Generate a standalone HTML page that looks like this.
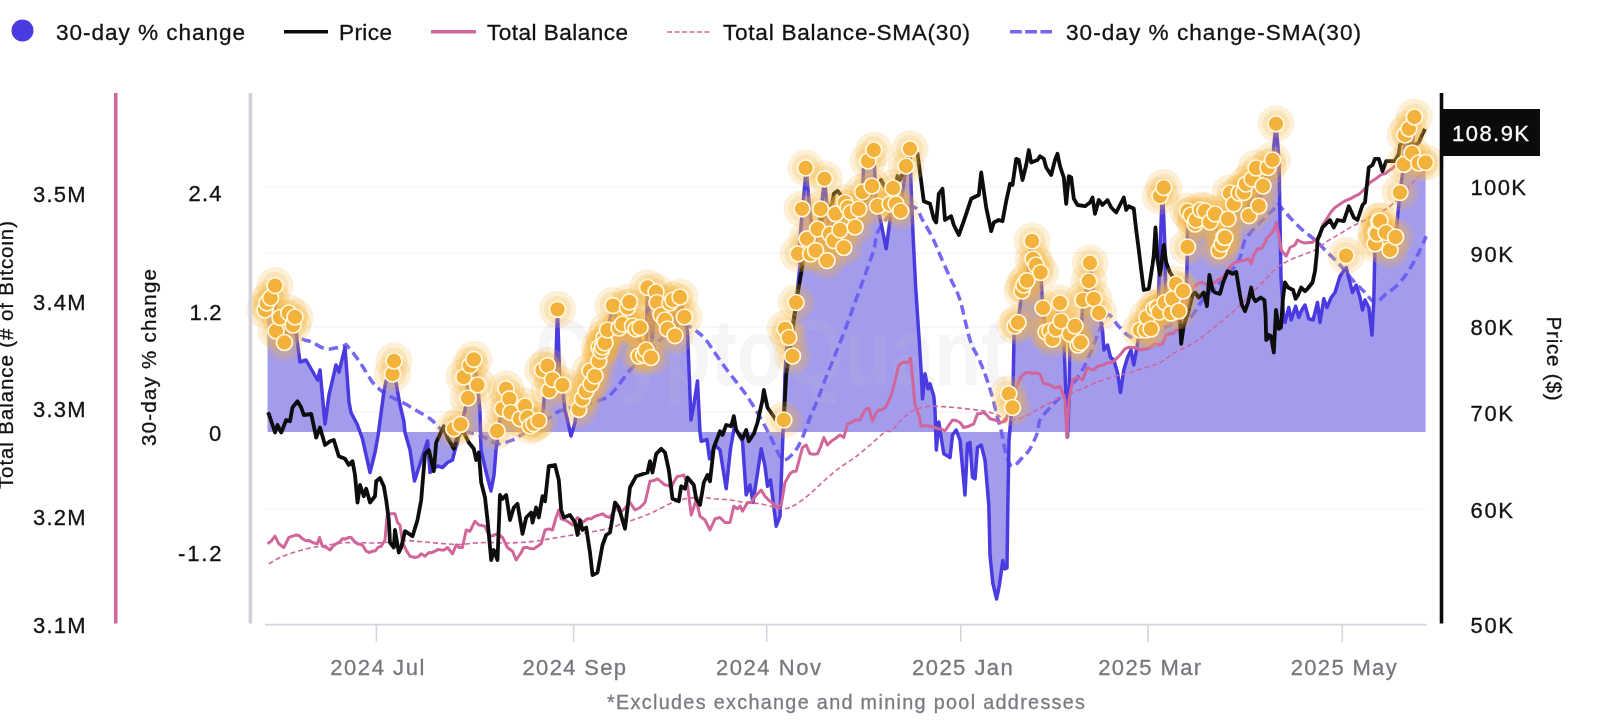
<!DOCTYPE html>
<html lang="en"><head><meta charset="utf-8"><title>30-day % change chart</title>
<style>
html,body{margin:0;padding:0;background:#fff;}
body{width:1600px;height:728px;overflow:hidden;font-family:"Liberation Sans", Arial, sans-serif;}
svg{display:block;filter:blur(0.4px)}
text{font-family:"Liberation Sans", Arial, sans-serif;}
.lg{font-size:22.6px;fill:#111;stroke:#111;stroke-width:0.3px}
.ax{font-size:22px;fill:#111;stroke:#111;stroke-width:0.3px}
.xt{font-size:22px;fill:#77767e;stroke:#77767e;stroke-width:0.3px}
</style></head><body>
<svg width="1600" height="728" viewBox="0 0 1600 728">
<rect width="1600" height="728" fill="#fff"/>

<line x1="266" x2="1426" y1="187" y2="187" stroke="#f0f0f3" stroke-width="1.2"/>
<line x1="266" x2="1426" y1="253" y2="253" stroke="#f0f0f3" stroke-width="1.2"/>
<line x1="266" x2="1426" y1="327" y2="327" stroke="#f0f0f3" stroke-width="1.2"/>
<line x1="266" x2="1426" y1="412" y2="412" stroke="#f0f0f3" stroke-width="1.2"/>
<line x1="266" x2="1426" y1="509" y2="509" stroke="#f0f0f3" stroke-width="1.2"/>
<path d="M267.5,432.0 L267.5,308.0 L268.0,304.0 L271.0,296.0 L275.0,286.0 L276.0,331.0 L280.0,316.0 L284.0,342.0 L290.0,315.0 L292.5,324.0 L295.0,317.5 L297.0,340.0 L300.0,362.0 L306.0,360.0 L317.5,380.0 L320.0,370.0 L325.0,424.0 L329.0,395.0 L336.0,365.0 L339.0,372.0 L345.0,347.5 L349.0,402.0 L351.0,412.5 L357.5,425.0 L362.5,439.0 L370.0,472.5 L375.0,452.5 L378.0,436.0 L380.0,421.0 L383.8,392.5 L386.0,381.0 L390.0,376.0 L392.5,374.0 L394.0,361.0 L396.0,382.5 L400.0,405.0 L403.8,421.0 L405.0,432.5 L410.0,450.0 L414.5,481.0 L420.0,464.0 L427.5,441.0 L430.0,472.5 L433.8,469.0 L437.5,466.0 L442.5,467.5 L447.5,462.5 L452.5,460.0 L455.0,450.0 L457.5,442.5 L461.0,425.0 L465.0,410.0 L467.5,397.0 L467.5,372.0 L474.0,360.0 L477.5,385.0 L479.0,400.0 L480.0,412.5 L481.0,450.0 L485.0,467.5 L487.5,477.5 L491.0,491.0 L494.0,475.0 L496.0,450.0 L497.5,440.0 L500.0,420.0 L503.0,407.0 L505.0,389.0 L510.0,399.0 L513.0,411.0 L516.0,417.0 L522.0,406.0 L525.0,415.0 L531.0,425.0 L537.0,421.0 L540.0,428.0 L543.0,410.0 L547.5,365.0 L550.0,385.0 L552.5,379.0 L555.0,390.0 L557.5,309.0 L560.0,390.0 L562.5,385.0 L565.0,410.0 L567.5,420.0 L571.0,436.0 L575.0,422.5 L577.5,400.0 L582.5,394.0 L586.0,386.0 L590.0,380.0 L595.0,375.0 L596.0,365.0 L599.0,347.5 L604.0,338.0 L607.5,330.0 L613.0,305.6 L619.0,328.0 L622.5,324.0 L627.5,307.5 L629.4,302.0 L632.5,326.0 L636.0,329.0 L640.0,340.0 L646.0,350.0 L647.5,287.5 L652.0,340.0 L656.0,292.0 L657.0,302.5 L661.0,315.0 L665.0,320.0 L667.5,329.0 L670.0,303.0 L673.0,300.0 L675.0,335.6 L680.0,297.0 L684.4,317.0 L687.5,332.0 L691.0,420.0 L693.8,405.0 L697.5,381.0 L700.0,432.0 L701.2,441.2 L707.0,439.5 L709.5,458.8 L715.0,445.0 L720.0,450.0 L726.2,488.8 L730.5,448.8 L734.5,426.2 L738.8,435.0 L742.5,441.2 L746.2,495.0 L750.0,485.0 L753.0,502.5 L761.2,448.8 L765.0,466.2 L767.5,486.2 L770.5,480.0 L776.2,526.2 L780.0,516.2 L783.0,432.5 L783.8,420.0 L785.0,375.0 L786.2,355.0 L787.5,337.5 L788.8,328.8 L792.5,325.0 L796.2,302.5 L800.0,265.0 L798.8,253.8 L802.5,208.8 L806.2,168.8 L810.0,212.5 L815.0,250.0 L821.2,208.8 L824.5,178.8 L827.5,212.5 L830.0,235.0 L835.0,213.8 L840.0,230.0 L845.0,202.5 L852.5,213.8 L858.8,208.8 L862.5,191.2 L863.8,162.5 L868.8,161.2 L873.8,150.0 L876.2,206.2 L880.0,217.5 L886.2,248.8 L890.0,220.0 L892.5,187.5 L900.0,210.0 L906.2,166.2 L910.0,148.8 L911.0,185.0 L911.5,200.0 L913.3,240.0 L915.6,286.0 L917.5,315.0 L919.5,345.0 L921.2,372.5 L922.5,398.8 L925.0,373.8 L928.1,388.8 L930.0,383.8 L933.8,396.2 L935.0,410.0 L936.3,450.0 L938.8,422.0 L941.2,437.5 L943.8,453.8 L950.0,457.5 L952.5,435.0 L956.2,430.0 L960.0,440.0 L965.0,495.0 L967.5,443.8 L970.0,442.5 L972.5,477.5 L975.0,478.8 L977.5,447.5 L981.2,445.0 L985.0,460.0 L988.8,505.0 L990.0,555.0 L992.8,583.0 L996.6,599.0 L999.4,585.0 L1002.8,560.6 L1004.6,569.0 L1007.0,568.0 L1007.8,508.0 L1009.0,440.0 L1012.0,407.0 L1013.0,392.0 L1014.0,336.0 L1015.0,326.0 L1018.0,322.0 L1022.0,292.0 L1024.0,287.0 L1027.0,282.0 L1032.0,241.0 L1033.0,259.0 L1036.0,265.0 L1040.6,272.5 L1043.0,309.0 L1046.0,332.0 L1050.0,331.0 L1052.5,339.0 L1056.0,329.0 L1060.0,303.0 L1061.0,321.0 L1064.0,340.0 L1066.0,400.0 L1067.5,437.0 L1069.0,400.0 L1070.0,334.0 L1075.0,326.0 L1078.0,345.0 L1080.6,342.5 L1083.0,300.0 L1088.8,281.0 L1090.0,263.0 L1093.8,299.0 L1099.0,313.0 L1102.5,330.0 L1104.0,350.0 L1107.5,345.0 L1110.6,357.5 L1113.8,360.0 L1117.5,372.5 L1120.5,392.5 L1123.8,370.0 L1127.5,357.5 L1131.0,350.0 L1133.8,365.0 L1138.0,341.0 L1140.0,330.0 L1145.6,330.0 L1147.0,317.5 L1151.0,329.0 L1154.0,309.0 L1158.0,312.0 L1160.0,250.0 L1162.5,187.0 L1165.0,250.0 L1166.0,305.6 L1171.0,313.0 L1172.5,298.8 L1176.0,284.0 L1180.0,312.5 L1183.0,291.0 L1186.5,283.0 L1187.5,247.0 L1187.5,211.0 L1191.0,215.0 L1196.0,220.0 L1200.6,210.0 L1205.0,211.0 L1210.0,222.0 L1215.0,214.0 L1219.0,250.0 L1222.0,244.0 L1224.0,237.0 L1225.0,237.0 L1228.0,219.0 L1230.0,193.0 L1233.8,204.0 L1239.0,193.0 L1243.8,192.5 L1246.0,184.0 L1249.0,215.0 L1252.0,179.0 L1256.0,168.0 L1258.8,206.0 L1263.0,186.0 L1268.0,167.5 L1272.5,160.0 L1276.0,124.0 L1279.0,160.0 L1281.0,277.5 L1283.8,320.0 L1285.0,322.5 L1288.8,307.5 L1291.2,320.0 L1295.6,306.2 L1298.8,317.5 L1301.2,311.2 L1305.0,305.0 L1308.8,318.8 L1313.1,320.0 L1317.5,302.5 L1320.0,322.5 L1323.8,298.8 L1326.9,307.5 L1331.2,297.5 L1335.0,292.5 L1340.0,276.2 L1342.5,272.5 L1346.2,267.5 L1350.0,282.5 L1352.5,292.5 L1356.2,285.0 L1360.0,297.5 L1362.5,310.0 L1365.0,300.0 L1368.8,307.5 L1372.0,335.0 L1373.8,300.0 L1375.0,243.8 L1377.0,233.8 L1380.0,221.0 L1386.0,232.5 L1390.0,250.0 L1395.6,237.0 L1400.0,192.5 L1403.8,164.4 L1405.0,135.0 L1408.8,128.8 L1414.4,117.0 L1412.0,153.0 L1418.8,163.0 L1425.6,162.5 L1425.6,432.0Z" fill="#a39bec" fill-opacity="1" stroke="none"/>
<text x="535" y="385" font-size="94" font-weight="bold" fill="#c4c4d4" fill-opacity="0.17" textLength="472" lengthAdjust="spacingAndGlyphs">CryptoQuant</text>
<line x1="265" x2="1427" y1="624.6" y2="624.6" stroke="#d6d5e0" stroke-width="1.7"/>
<line x1="376.4" x2="376.4" y1="624" y2="642" stroke="#d6d5e0" stroke-width="1.6"/>
<line x1="573.6" x2="573.6" y1="624" y2="642" stroke="#d6d5e0" stroke-width="1.6"/>
<line x1="766.7" x2="766.7" y1="624" y2="642" stroke="#d6d5e0" stroke-width="1.6"/>
<line x1="960.8" x2="960.8" y1="624" y2="642" stroke="#d6d5e0" stroke-width="1.6"/>
<line x1="1148" x2="1148" y1="624" y2="642" stroke="#d6d5e0" stroke-width="1.6"/>
<line x1="1342.3" x2="1342.3" y1="624" y2="642" stroke="#d6d5e0" stroke-width="1.6"/>
<path d="M267.5,312.5 C269.6,314.6 274.3,320.6 280.0,325.0 C285.7,329.4 296.7,335.9 301.9,338.8 C307.1,341.6 307.4,340.2 311.2,341.9 C315.1,343.5 321.0,347.7 325.0,348.8 C329.0,349.8 332.1,348.5 335.0,348.1 C337.9,347.7 340.7,346.7 342.5,346.2 C344.3,345.8 345.2,345.4 345.9,345.2 C346.5,345.0 346.1,345.0 346.2,345.0 C346.4,345.0 345.4,343.7 346.6,345.2 C347.9,346.7 351.1,350.2 353.8,353.8 C356.4,357.3 359.2,361.2 362.5,366.2 C365.8,371.2 369.6,379.0 373.8,383.8 C377.9,388.5 382.3,391.7 387.5,395.0 C392.7,398.3 397.9,399.8 405.0,403.8 C412.1,407.7 424.6,415.0 430.0,418.8 C435.4,422.5 434.2,423.5 437.5,426.2 C440.8,429.0 445.0,434.0 450.0,435.0 C455.0,436.0 461.7,432.1 467.5,432.5 C473.3,432.9 480.0,435.6 485.0,437.5 C490.0,439.4 492.9,443.3 497.5,443.8 C502.1,444.2 507.9,441.9 512.5,440.0 C517.1,438.1 518.8,436.2 525.0,432.5 C531.2,428.8 543.8,421.2 550.0,417.5 C556.2,413.8 554.2,412.9 562.5,410.0 C570.8,407.1 591.7,402.9 600.0,400.0 C608.3,397.1 607.5,397.5 612.5,392.5 C617.5,387.5 625.4,375.2 630.0,370.0 C634.6,364.8 636.7,364.6 640.0,361.2 C643.3,357.9 646.7,353.5 650.0,350.0 C653.3,346.5 656.7,343.0 660.0,340.0 C663.3,337.0 666.7,334.2 670.0,332.0 C673.3,329.8 677.3,328.2 680.0,327.0 C682.7,325.8 683.1,324.2 686.0,325.0 C688.9,325.8 694.2,329.5 697.5,332.0 C700.8,334.5 702.9,336.2 706.0,340.0 C709.1,343.8 712.5,349.5 716.0,354.5 C719.5,359.5 723.3,365.1 727.0,370.0 C730.7,374.9 734.7,379.7 738.0,384.0 C741.3,388.3 743.8,391.3 747.0,396.0 C750.2,400.7 753.8,406.7 757.0,412.0 C760.2,417.3 763.5,423.3 766.0,428.0 C768.5,432.7 769.7,435.3 772.0,440.0 C774.3,444.7 777.8,452.9 780.0,456.2 C782.2,459.6 782.5,460.8 785.0,460.0 C787.5,459.2 792.1,455.0 795.0,451.2 C797.9,447.5 800.0,443.1 802.5,437.5 C805.0,431.9 807.5,423.8 810.0,417.5 C812.5,411.2 815.0,406.2 817.5,400.0 C820.0,393.8 822.1,387.5 825.0,380.0 C827.9,372.5 831.7,363.3 835.0,355.0 C838.3,346.7 841.7,338.8 845.0,330.0 C848.3,321.2 851.7,311.7 855.0,302.5 C858.3,293.3 861.9,283.8 865.0,275.0 C868.1,266.2 871.7,257.1 873.8,250.0 C875.8,242.9 875.2,237.9 877.5,232.5 C879.8,227.1 883.8,221.7 887.5,217.5 C891.2,213.3 895.4,209.2 900.0,207.5 C904.6,205.8 911.2,205.4 915.0,207.5 C918.8,209.6 919.6,215.0 922.5,220.0 C925.4,225.0 929.6,231.7 932.5,237.5 C935.4,243.3 937.1,248.3 940.0,255.0 C942.9,261.7 946.7,270.0 950.0,277.5 C953.3,285.0 956.7,289.6 960.0,300.0 C963.3,310.4 966.9,330.2 970.0,340.0 C973.1,349.8 976.0,352.5 978.8,358.8 C981.5,365.0 984.0,371.0 986.2,377.5 C988.5,384.0 990.6,390.8 992.5,397.5 C994.4,404.2 996.0,411.9 997.5,417.5 C999.0,423.1 999.8,424.8 1001.2,431.0 C1002.7,437.2 1004.4,449.1 1006.2,455.0 C1008.1,460.9 1009.8,465.8 1012.5,466.2 C1015.2,466.7 1019.6,460.4 1022.5,457.5 C1025.4,454.6 1027.5,452.9 1030.0,448.8 C1032.5,444.6 1035.8,437.3 1037.5,432.5 C1039.2,427.7 1037.5,424.6 1040.0,420.0 C1042.5,415.4 1048.3,409.6 1052.5,405.0 C1056.7,400.4 1060.8,397.1 1065.0,392.5 C1069.2,387.9 1073.8,382.9 1077.5,377.5 C1081.2,372.1 1084.2,367.1 1087.5,360.0 C1090.8,352.9 1094.2,342.5 1097.5,335.0 C1100.8,327.5 1104.2,316.7 1107.5,315.0 C1110.8,313.3 1114.2,321.7 1117.5,325.0 C1120.8,328.3 1124.2,332.7 1127.5,335.0 C1130.8,337.3 1133.8,338.8 1137.5,338.8 C1141.2,338.8 1144.6,337.3 1150.0,335.0 C1155.4,332.7 1163.3,327.9 1170.0,325.0 C1176.7,322.1 1184.6,321.7 1190.0,317.5 C1195.4,313.3 1198.3,305.0 1202.5,300.0 C1206.7,295.0 1210.4,292.1 1215.0,287.5 C1219.6,282.9 1225.8,277.5 1230.0,272.5 C1234.2,267.5 1237.5,262.9 1240.0,257.5 C1242.5,252.1 1242.1,245.4 1245.0,240.0 C1247.9,234.6 1253.3,229.6 1257.5,225.0 C1261.7,220.4 1266.5,215.8 1270.0,212.5 C1273.5,209.2 1276.9,206.4 1278.3,205.2 C1279.8,203.9 1278.6,205.0 1278.8,205.0 C1278.9,205.0 1277.3,203.1 1279.2,205.2 C1281.0,207.3 1286.1,213.4 1290.0,217.5 C1293.9,221.6 1298.3,226.2 1302.5,230.0 C1306.7,233.8 1310.8,236.2 1315.0,240.0 C1319.2,243.8 1323.3,248.3 1327.5,252.5 C1331.7,256.7 1335.8,260.4 1340.0,265.0 C1344.2,269.6 1348.3,275.4 1352.5,280.0 C1356.7,284.6 1361.2,288.8 1365.0,292.5 C1368.8,296.2 1371.7,302.1 1375.0,302.5 C1378.3,302.9 1381.2,297.9 1385.0,295.0 C1388.8,292.1 1393.8,288.8 1397.5,285.0 C1401.2,281.2 1404.6,276.7 1407.5,272.5 C1410.4,268.3 1412.9,263.8 1415.0,260.0 C1417.1,256.2 1418.1,254.0 1420.0,250.0 C1421.9,246.0 1425.2,238.5 1426.2,236.2" fill="none" stroke="#6a5cf0" stroke-opacity="0.92" stroke-width="3.5" stroke-dasharray="9.5 5" stroke-linejoin="round"/>
<path d="M267.5,308.0 L268.0,304.0 L271.0,296.0 L275.0,286.0 L276.0,331.0 L280.0,316.0 L284.0,342.0 L290.0,315.0 L292.5,324.0 L295.0,317.5 L297.0,340.0 L300.0,362.0 L306.0,360.0 L317.5,380.0 L320.0,370.0 L325.0,424.0 L329.0,395.0 L336.0,365.0 L339.0,372.0 L345.0,347.5 L349.0,402.0 L351.0,412.5 L357.5,425.0 L362.5,439.0 L370.0,472.5 L375.0,452.5 L378.0,436.0 L380.0,421.0 L383.8,392.5 L386.0,381.0 L390.0,376.0 L392.5,374.0 L394.0,361.0 L396.0,382.5 L400.0,405.0 L403.8,421.0 L405.0,432.5 L410.0,450.0 L414.5,481.0 L420.0,464.0 L427.5,441.0 L430.0,472.5 L433.8,469.0 L437.5,466.0 L442.5,467.5 L447.5,462.5 L452.5,460.0 L455.0,450.0 L457.5,442.5 L461.0,425.0 L465.0,410.0 L467.5,397.0 L467.5,372.0 L474.0,360.0 L477.5,385.0 L479.0,400.0 L480.0,412.5 L481.0,450.0 L485.0,467.5 L487.5,477.5 L491.0,491.0 L494.0,475.0 L496.0,450.0 L497.5,440.0 L500.0,420.0 L503.0,407.0 L505.0,389.0 L510.0,399.0 L513.0,411.0 L516.0,417.0 L522.0,406.0 L525.0,415.0 L531.0,425.0 L537.0,421.0 L540.0,428.0 L543.0,410.0 L547.5,365.0 L550.0,385.0 L552.5,379.0 L555.0,390.0 L557.5,309.0 L560.0,390.0 L562.5,385.0 L565.0,410.0 L567.5,420.0 L571.0,436.0 L575.0,422.5 L577.5,400.0 L582.5,394.0 L586.0,386.0 L590.0,380.0 L595.0,375.0 L596.0,365.0 L599.0,347.5 L604.0,338.0 L607.5,330.0 L613.0,305.6 L619.0,328.0 L622.5,324.0 L627.5,307.5 L629.4,302.0 L632.5,326.0 L636.0,329.0 L640.0,340.0 L646.0,350.0 L647.5,287.5 L652.0,340.0 L656.0,292.0 L657.0,302.5 L661.0,315.0 L665.0,320.0 L667.5,329.0 L670.0,303.0 L673.0,300.0 L675.0,335.6 L680.0,297.0 L684.4,317.0 L687.5,332.0 L691.0,420.0 L693.8,405.0 L697.5,381.0 L700.0,432.0 L701.2,441.2 L707.0,439.5 L709.5,458.8 L715.0,445.0 L720.0,450.0 L726.2,488.8 L730.5,448.8 L734.5,426.2 L738.8,435.0 L742.5,441.2 L746.2,495.0 L750.0,485.0 L753.0,502.5 L761.2,448.8 L765.0,466.2 L767.5,486.2 L770.5,480.0 L776.2,526.2 L780.0,516.2 L783.0,432.5 L783.8,420.0 L785.0,375.0 L786.2,355.0 L787.5,337.5 L788.8,328.8 L792.5,325.0 L796.2,302.5 L800.0,265.0 L798.8,253.8 L802.5,208.8 L806.2,168.8 L810.0,212.5 L815.0,250.0 L821.2,208.8 L824.5,178.8 L827.5,212.5 L830.0,235.0 L835.0,213.8 L840.0,230.0 L845.0,202.5 L852.5,213.8 L858.8,208.8 L862.5,191.2 L863.8,162.5 L868.8,161.2 L873.8,150.0 L876.2,206.2 L880.0,217.5 L886.2,248.8 L890.0,220.0 L892.5,187.5 L900.0,210.0 L906.2,166.2 L910.0,148.8 L911.0,185.0 L911.5,200.0 L913.3,240.0 L915.6,286.0 L917.5,315.0 L919.5,345.0 L921.2,372.5 L922.5,398.8 L925.0,373.8 L928.1,388.8 L930.0,383.8 L933.8,396.2 L935.0,410.0 L936.3,450.0 L938.8,422.0 L941.2,437.5 L943.8,453.8 L950.0,457.5 L952.5,435.0 L956.2,430.0 L960.0,440.0 L965.0,495.0 L967.5,443.8 L970.0,442.5 L972.5,477.5 L975.0,478.8 L977.5,447.5 L981.2,445.0 L985.0,460.0 L988.8,505.0 L990.0,555.0 L992.8,583.0 L996.6,599.0 L999.4,585.0 L1002.8,560.6 L1004.6,569.0 L1007.0,568.0 L1007.8,508.0 L1009.0,440.0 L1012.0,407.0 L1013.0,392.0 L1014.0,336.0 L1015.0,326.0 L1018.0,322.0 L1022.0,292.0 L1024.0,287.0 L1027.0,282.0 L1032.0,241.0 L1033.0,259.0 L1036.0,265.0 L1040.6,272.5 L1043.0,309.0 L1046.0,332.0 L1050.0,331.0 L1052.5,339.0 L1056.0,329.0 L1060.0,303.0 L1061.0,321.0 L1064.0,340.0 L1066.0,400.0 L1067.5,437.0 L1069.0,400.0 L1070.0,334.0 L1075.0,326.0 L1078.0,345.0 L1080.6,342.5 L1083.0,300.0 L1088.8,281.0 L1090.0,263.0 L1093.8,299.0 L1099.0,313.0 L1102.5,330.0 L1104.0,350.0 L1107.5,345.0 L1110.6,357.5 L1113.8,360.0 L1117.5,372.5 L1120.5,392.5 L1123.8,370.0 L1127.5,357.5 L1131.0,350.0 L1133.8,365.0 L1138.0,341.0 L1140.0,330.0 L1145.6,330.0 L1147.0,317.5 L1151.0,329.0 L1154.0,309.0 L1158.0,312.0 L1160.0,250.0 L1162.5,187.0 L1165.0,250.0 L1166.0,305.6 L1171.0,313.0 L1172.5,298.8 L1176.0,284.0 L1180.0,312.5 L1183.0,291.0 L1186.5,283.0 L1187.5,247.0 L1187.5,211.0 L1191.0,215.0 L1196.0,220.0 L1200.6,210.0 L1205.0,211.0 L1210.0,222.0 L1215.0,214.0 L1219.0,250.0 L1222.0,244.0 L1224.0,237.0 L1225.0,237.0 L1228.0,219.0 L1230.0,193.0 L1233.8,204.0 L1239.0,193.0 L1243.8,192.5 L1246.0,184.0 L1249.0,215.0 L1252.0,179.0 L1256.0,168.0 L1258.8,206.0 L1263.0,186.0 L1268.0,167.5 L1272.5,160.0 L1276.0,124.0 L1279.0,160.0 L1281.0,277.5 L1283.8,320.0 L1285.0,322.5 L1288.8,307.5 L1291.2,320.0 L1295.6,306.2 L1298.8,317.5 L1301.2,311.2 L1305.0,305.0 L1308.8,318.8 L1313.1,320.0 L1317.5,302.5 L1320.0,322.5 L1323.8,298.8 L1326.9,307.5 L1331.2,297.5 L1335.0,292.5 L1340.0,276.2 L1342.5,272.5 L1346.2,267.5 L1350.0,282.5 L1352.5,292.5 L1356.2,285.0 L1360.0,297.5 L1362.5,310.0 L1365.0,300.0 L1368.8,307.5 L1372.0,335.0 L1373.8,300.0 L1375.0,243.8 L1377.0,233.8 L1380.0,221.0 L1386.0,232.5 L1390.0,250.0 L1395.6,237.0 L1400.0,192.5 L1403.8,164.4 L1405.0,135.0 L1408.8,128.8 L1414.4,117.0 L1412.0,153.0 L1418.8,163.0 L1425.6,162.5" fill="none" stroke="#4a3be0" stroke-width="3.5" stroke-linejoin="round"/>
<path d="M268.8,563.8 C270.6,562.7 275.6,559.5 280.0,557.5 C284.4,555.5 290.0,553.6 295.0,552.0 C300.0,550.4 305.0,549.1 310.0,548.0 C315.0,546.9 320.0,546.3 325.0,545.5 C330.0,544.7 335.0,543.8 340.0,543.2 C345.0,542.8 350.0,542.5 355.0,542.5 C360.0,542.5 365.0,543.0 370.0,543.0 C375.0,543.0 380.0,542.9 385.0,542.5 C390.0,542.1 395.0,540.7 400.0,540.5 C405.0,540.3 410.0,540.9 415.0,541.2 C420.0,541.6 425.0,542.1 430.0,542.5 C435.0,542.9 440.0,543.4 445.0,543.8 C450.0,544.1 455.0,544.6 460.0,544.5 C465.0,544.4 470.0,543.3 475.0,543.0 C480.0,542.7 485.0,542.5 490.0,542.5 C495.0,542.5 500.0,543.0 505.0,543.0 C510.0,543.0 515.0,542.8 520.0,542.5 C525.0,542.2 530.0,541.9 535.0,541.2 C540.0,540.6 545.0,539.6 550.0,538.8 C555.0,537.9 560.0,537.1 565.0,536.2 C570.0,535.4 575.0,534.6 580.0,533.8 C585.0,532.9 590.0,532.2 595.0,531.2 C600.0,530.3 605.0,529.5 610.0,528.0 C615.0,526.5 620.0,524.2 625.0,522.5 C630.0,520.8 635.0,519.4 640.0,517.5 C645.0,515.6 650.0,513.5 655.0,511.2 C660.0,509.0 665.0,505.8 670.0,503.8 C675.0,501.7 680.0,499.8 685.0,498.8 C690.0,497.7 695.0,497.5 700.0,497.5 C705.0,497.5 710.0,498.3 715.0,498.8 C720.0,499.2 725.0,499.4 730.0,500.0 C735.0,500.6 740.0,501.9 745.0,502.5 C750.0,503.1 755.0,502.9 760.0,503.8 C765.0,504.6 770.8,506.7 775.0,507.5 C779.2,508.3 781.7,509.2 785.0,508.8 C788.3,508.3 790.8,507.5 795.0,505.0 C799.2,502.5 805.0,497.9 810.0,493.8 C815.0,489.6 820.0,484.4 825.0,480.0 C830.0,475.6 835.0,471.2 840.0,467.5 C845.0,463.8 850.0,461.2 855.0,457.5 C860.0,453.8 865.0,449.2 870.0,445.0 C875.0,440.8 881.5,434.3 885.0,432.0 C888.5,429.7 888.8,432.8 891.2,431.0 C893.8,429.2 896.9,424.3 900.0,421.2 C903.1,418.2 906.2,414.8 910.0,412.5 C913.8,410.2 918.3,408.5 922.5,407.5 C926.7,406.5 928.8,406.1 935.0,406.2 C941.2,406.4 951.7,407.3 960.0,408.1 C968.3,409.0 978.8,410.1 985.0,411.2 C991.2,412.4 993.8,413.5 997.5,415.0 C1001.2,416.5 1003.3,419.6 1007.5,420.0 C1011.7,420.4 1016.9,419.6 1022.5,417.5 C1028.1,415.4 1035.0,410.8 1041.2,407.5 C1047.5,404.2 1055.2,399.8 1060.0,397.5 C1064.8,395.2 1065.8,395.4 1070.0,393.8 C1074.2,392.1 1080.0,389.6 1085.0,387.5 C1090.0,385.4 1095.0,383.1 1100.0,381.2 C1105.0,379.4 1110.0,377.7 1115.0,376.2 C1120.0,374.8 1125.0,374.0 1130.0,372.5 C1135.0,371.0 1140.0,369.2 1145.0,367.5 C1150.0,365.8 1155.0,365.0 1160.0,362.5 C1165.0,360.0 1170.0,355.4 1175.0,352.5 C1180.0,349.6 1185.0,347.9 1190.0,345.0 C1195.0,342.1 1200.0,338.8 1205.0,335.0 C1210.0,331.2 1215.0,326.7 1220.0,322.5 C1225.0,318.3 1230.0,314.6 1235.0,310.0 C1240.0,305.4 1245.0,300.0 1250.0,295.0 C1255.0,290.0 1260.4,284.6 1265.0,280.0 C1269.6,275.4 1273.3,270.8 1277.5,267.5 C1281.7,264.2 1285.8,262.1 1290.0,260.0 C1294.2,257.9 1298.3,256.7 1302.5,255.0 C1306.7,253.3 1310.8,252.3 1315.0,250.0 C1319.2,247.7 1323.3,244.0 1327.5,241.2 C1331.7,238.5 1335.8,236.2 1340.0,233.8 C1344.2,231.2 1348.3,228.5 1352.5,226.2 C1356.7,224.0 1360.8,222.1 1365.0,220.0 C1369.2,217.9 1373.3,216.0 1377.5,213.8 C1381.7,211.5 1385.8,209.4 1390.0,206.2 C1394.2,203.1 1398.3,199.4 1402.5,195.0 C1406.7,190.6 1411.0,184.2 1415.0,180.0 C1419.0,175.8 1424.4,171.7 1426.2,170.0" fill="none" stroke="#d0669a" stroke-width="1.6" stroke-dasharray="5 3"/>
<path d="M267.5,543.8 L271.2,541.1 L275.0,536.2 L278.8,543.8 L283.8,547.5 L288.8,537.5 L292.5,536.1 L296.2,535.0 L299.4,535.8 L302.5,538.8 L305.8,540.8 L309.2,540.4 L312.5,542.5 L317.5,543.8 L319.5,537.5 L322.5,546.2 L326.2,547.2 L330.0,550.0 L333.1,546.0 L336.2,543.8 L339.4,542.1 L342.5,538.8 L345.4,539.1 L348.3,537.6 L351.2,537.5 L354.4,541.5 L357.5,543.8 L362.5,545.0 L366.2,551.2 L369.4,552.5 L372.5,551.2 L375.4,550.7 L378.3,547.1 L381.2,546.2 L385.0,540.0 L387.0,516.2 L390.0,513.8 L395.0,513.8 L397.5,522.5 L400.0,525.0 L402.5,542.5 L406.2,550.2 L410.0,556.2 L415.0,557.5 L418.1,556.8 L421.2,553.8 L425.0,556.2 L428.8,552.5 L431.9,552.7 L435.0,551.2 L438.1,549.4 L441.2,550.0 L444.4,549.9 L447.5,547.5 L452.5,553.8 L456.2,545.0 L459.4,547.5 L462.5,547.5 L466.2,530.0 L470.0,531.2 L475.0,521.2 L478.8,525.0 L481.9,525.5 L485.0,526.2 L487.5,532.5 L491.2,536.2 L494.4,535.0 L497.5,533.8 L502.5,537.5 L507.5,547.5 L512.5,551.2 L516.2,560.0 L521.2,552.5 L523.8,547.5 L527.5,547.6 L531.2,548.8 L534.4,548.4 L537.5,546.2 L541.2,543.8 L545.0,530.0 L548.8,528.9 L552.5,530.0 L555.6,518.8 L558.8,510.0 L561.2,518.8 L565.0,520.0 L568.8,522.3 L572.5,525.0 L577.5,517.5 L582.5,522.5 L587.5,518.8 L591.2,518.7 L595.0,516.2 L598.8,515.1 L602.5,513.8 L606.2,516.4 L610.0,517.5 L613.1,512.4 L616.2,507.5 L620.0,512.5 L623.3,509.9 L626.7,506.2 L630.0,502.5 L635.0,510.0 L640.0,507.5 L645.0,502.5 L650.0,481.2 L653.8,480.6 L657.5,478.8 L661.2,481.8 L665.0,485.0 L668.1,485.2 L671.2,487.5 L674.4,481.0 L677.5,476.2 L680.6,475.9 L683.8,475.0 L687.5,485.0 L691.2,515.0 L696.2,500.0 L700.0,516.2 L705.0,520.0 L710.0,530.0 L715.0,518.8 L720.0,517.5 L725.0,522.5 L730.0,522.5 L733.8,506.2 L737.5,508.8 L740.0,506.2 L742.5,511.2 L747.5,502.5 L751.2,502.5 L754.4,497.5 L757.5,493.8 L761.2,490.0 L765.0,496.2 L770.0,501.2 L773.1,503.2 L776.2,507.5 L781.2,505.0 L785.0,482.5 L790.0,473.8 L793.1,471.4 L796.2,471.2 L799.4,459.2 L802.5,447.5 L806.2,445.0 L810.0,453.8 L813.8,454.3 L817.5,453.8 L820.6,446.8 L823.8,437.5 L827.5,445.0 L831.2,441.2 L835.0,438.8 L840.0,435.0 L843.8,437.5 L847.5,423.8 L851.2,422.9 L855.0,420.0 L860.0,420.0 L865.0,410.0 L868.8,408.1 L872.5,421.2 L876.2,412.5 L878.8,410.0 L881.9,409.5 L885.0,408.1 L888.1,402.4 L891.2,395.0 L895.0,381.2 L898.8,365.0 L903.8,361.9 L907.5,363.1 L910.6,358.1 L912.5,377.5 L915.0,405.0 L918.8,415.0 L921.2,426.2 L924.2,425.8 L927.1,425.7 L930.0,426.2 L935.0,427.5 L938.3,428.8 L941.7,429.3 L945.0,431.0 L948.8,425.3 L952.5,420.0 L956.2,420.6 L960.0,422.5 L963.8,427.5 L968.8,426.2 L973.8,423.8 L977.5,413.8 L980.6,413.4 L983.8,412.5 L986.9,415.1 L990.0,418.8 L995.0,420.0 L1000.0,422.5 L1005.0,421.2 L1010.0,410.0 L1013.1,397.7 L1016.2,387.5 L1021.2,376.2 L1026.2,372.5 L1029.4,372.4 L1032.5,373.8 L1036.2,372.8 L1040.0,374.4 L1043.8,383.8 L1046.9,384.0 L1050.0,385.0 L1055.0,388.1 L1060.0,386.2 L1065.0,400.0 L1067.0,437.5 L1069.0,400.0 L1072.5,380.0 L1077.5,377.5 L1082.5,380.0 L1087.5,367.5 L1090.6,369.3 L1093.8,370.0 L1097.5,366.2 L1101.2,365.6 L1105.0,363.8 L1108.8,362.6 L1112.5,362.5 L1116.2,358.9 L1120.0,355.0 L1125.0,348.8 L1128.8,347.2 L1132.5,347.5 L1136.2,348.1 L1140.0,350.0 L1143.8,349.3 L1147.5,348.8 L1151.2,346.7 L1155.0,343.8 L1158.8,345.0 L1162.5,343.8 L1166.2,335.0 L1169.4,333.7 L1172.5,333.8 L1176.2,330.3 L1180.0,327.5 L1183.3,314.0 L1186.7,303.0 L1190.0,290.0 L1193.1,288.0 L1196.2,285.0 L1199.4,282.8 L1202.5,282.5 L1207.5,285.0 L1211.2,283.2 L1215.0,282.5 L1218.1,279.8 L1221.2,278.8 L1224.4,275.0 L1227.5,271.2 L1231.2,265.0 L1235.0,262.5 L1240.0,261.2 L1245.0,260.0 L1248.8,258.8 L1251.2,263.8 L1253.8,255.0 L1257.5,248.8 L1261.2,248.8 L1266.2,241.2 L1266.2,238.8 L1270.0,235.0 L1273.8,230.0 L1276.2,222.5 L1278.8,235.0 L1281.2,250.0 L1286.2,256.2 L1290.0,247.5 L1295.0,245.0 L1297.5,240.0 L1302.5,242.5 L1305.6,243.0 L1308.8,242.5 L1311.9,242.5 L1315.0,240.0 L1320.0,236.2 L1322.5,225.0 L1327.5,217.5 L1331.2,211.8 L1335.0,207.5 L1338.8,205.0 L1342.5,202.5 L1346.2,200.3 L1350.0,198.8 L1355.0,196.2 L1358.8,194.3 L1362.5,191.2 L1366.2,187.0 L1370.0,182.5 L1373.8,179.9 L1377.5,177.5 L1381.2,174.6 L1385.0,173.8 L1388.3,171.0 L1391.7,168.9 L1395.0,166.2 L1398.3,162.8 L1401.7,161.4 L1405.0,157.5 L1408.3,152.3 L1411.7,149.6 L1415.0,145.0" fill="none" stroke="#d0669a" stroke-width="3" stroke-linejoin="round"/>
<path d="M267.5,415.0 L268.8,413.8 L275.0,432.5 L277.5,425.0 L281.2,432.5 L286.2,420.0 L290.0,421.2 L292.5,407.5 L297.5,401.2 L301.2,407.5 L303.8,415.0 L311.2,413.8 L316.2,437.5 L320.0,427.5 L325.0,445.0 L330.0,441.2 L333.8,440.0 L338.8,456.2 L345.0,458.8 L348.8,465.0 L352.5,461.2 L355.0,475.0 L357.5,502.5 L360.0,485.0 L363.8,496.2 L366.2,488.8 L370.0,502.5 L375.0,496.2 L376.2,481.2 L380.0,478.0 L383.8,486.2 L386.2,500.0 L388.8,520.0 L390.0,542.5 L393.8,547.5 L395.0,530.0 L398.8,552.5 L401.2,547.5 L405.0,531.2 L412.5,536.2 L417.5,520.0 L421.2,500.0 L425.0,453.8 L428.8,450.0 L433.8,471.2 L436.2,442.5 L443.8,426.2 L447.5,437.5 L453.8,448.8 L457.5,437.5 L462.5,430.0 L468.8,442.5 L473.8,448.8 L476.2,460.0 L478.8,452.5 L481.2,482.5 L485.0,497.5 L487.5,520.0 L491.2,560.0 L493.8,550.0 L497.5,560.0 L500.0,495.0 L502.5,498.8 L506.2,495.0 L510.0,520.0 L513.8,507.5 L517.5,503.8 L522.5,533.8 L526.2,517.5 L531.2,512.5 L532.5,522.5 L536.2,507.5 L538.8,517.5 L542.5,496.2 L545.0,501.2 L548.8,466.2 L555.0,465.0 L558.8,480.0 L561.2,510.0 L563.8,517.5 L570.0,515.0 L575.0,522.5 L577.5,535.0 L580.0,520.0 L582.5,530.0 L586.2,527.5 L590.0,552.5 L592.5,575.0 L597.5,572.5 L602.5,545.0 L606.2,535.0 L610.0,532.5 L615.0,502.5 L618.8,507.5 L625.0,528.8 L630.0,487.5 L636.2,476.2 L647.5,472.5 L650.0,461.2 L652.5,472.5 L656.2,453.8 L661.2,448.8 L665.0,452.5 L668.8,470.0 L672.5,498.8 L678.8,501.2 L681.2,486.2 L685.0,488.8 L687.5,477.5 L693.8,485.0 L696.2,498.8 L700.0,505.0 L703.8,482.5 L707.5,475.0 L710.0,481.2 L713.8,447.5 L720.0,431.2 L722.5,435.0 L726.2,425.0 L731.2,426.2 L733.8,416.2 L736.2,430.0 L742.5,438.8 L746.2,430.0 L748.8,441.2 L753.8,433.8 L757.5,422.5 L762.5,400.0 L763.8,390.0 L767.5,407.5 L776.2,420.0 L783.8,420.0 L786.2,375.0 L790.0,350.0 L796.2,302.5 L802.5,265.0 L802.0,268.0 L803.0,258.0 L806.0,250.0 L812.0,236.0 L820.0,222.0 L828.0,210.0 L832.5,202.5 L833.8,193.8 L837.5,191.0 L845.0,200.0 L852.0,208.0 L860.0,205.0 L870.0,195.0 L878.0,186.0 L881.0,180.0 L883.8,185.0 L890.0,195.0 L895.0,190.0 L897.5,176.0 L900.0,180.0 L905.0,168.0 L910.0,150.0 L917.5,153.8 L920.0,172.5 L923.8,201.2 L930.0,203.8 L933.8,218.8 L936.2,222.5 L938.8,193.8 L942.5,188.8 L945.0,220.0 L951.2,216.2 L953.8,225.0 L958.8,235.0 L965.0,217.5 L971.2,198.8 L976.2,196.2 L978.8,195.0 L981.2,172.5 L986.2,207.5 L991.2,231.2 L993.8,222.5 L998.8,220.0 L1002.5,221.2 L1006.2,201.2 L1010.0,183.8 L1012.5,185.0 L1016.2,158.8 L1018.8,160.0 L1022.5,180.0 L1026.2,165.0 L1028.8,150.0 L1031.2,162.5 L1037.5,160.0 L1040.0,156.2 L1043.8,158.8 L1046.2,167.5 L1051.2,175.0 L1055.0,160.0 L1057.5,153.8 L1060.0,166.2 L1063.8,177.5 L1066.2,203.8 L1068.8,176.2 L1071.2,177.5 L1073.8,198.8 L1077.5,205.0 L1085.0,206.2 L1090.0,202.5 L1092.5,197.5 L1095.0,213.8 L1098.8,200.0 L1102.5,205.0 L1107.5,200.0 L1111.2,207.5 L1116.2,212.5 L1120.0,205.0 L1123.8,197.5 L1126.2,210.0 L1128.8,206.2 L1133.8,208.8 L1136.2,230.0 L1138.8,250.0 L1141.2,270.0 L1143.8,290.0 L1148.8,288.8 L1152.5,265.0 L1153.8,255.0 L1155.5,227.5 L1157.5,260.0 L1160.0,275.0 L1163.8,245.0 L1166.2,262.5 L1170.0,272.5 L1175.0,280.0 L1180.0,320.0 L1181.2,343.8 L1183.8,325.0 L1187.5,315.0 L1192.5,295.0 L1195.0,292.5 L1198.8,297.5 L1203.8,292.5 L1206.9,306.2 L1209.4,275.0 L1212.5,290.0 L1215.0,292.5 L1220.0,293.8 L1223.1,282.5 L1227.5,271.2 L1232.5,273.8 L1236.2,271.9 L1240.0,295.0 L1241.9,305.0 L1245.0,311.2 L1248.1,302.5 L1251.2,287.5 L1253.1,297.5 L1255.6,301.2 L1260.6,297.5 L1264.4,300.0 L1265.6,315.0 L1266.2,340.0 L1267.5,338.8 L1268.8,335.0 L1271.0,336.2 L1273.8,352.5 L1276.0,310.0 L1278.8,328.8 L1281.0,327.5 L1282.8,300.0 L1285.0,282.5 L1288.1,287.5 L1293.1,290.0 L1295.6,298.8 L1298.1,295.0 L1301.2,287.5 L1305.0,291.2 L1307.5,288.8 L1312.5,282.5 L1315.0,271.2 L1316.9,252.5 L1317.5,240.0 L1322.5,227.5 L1330.0,220.0 L1333.8,227.5 L1337.5,220.0 L1343.8,221.2 L1348.8,206.2 L1353.8,217.5 L1357.5,220.0 L1362.5,205.0 L1365.0,202.5 L1368.8,167.5 L1372.5,165.0 L1375.0,158.8 L1378.8,158.8 L1382.5,171.2 L1386.2,161.2 L1392.5,161.2 L1395.0,161.0 L1398.8,153.8 L1400.0,145.0 L1404.0,141.0 L1410.0,144.0 L1416.0,144.5 L1418.8,142.5 L1422.0,135.0 L1425.0,128.8" fill="none" stroke="#0d0d0d" stroke-width="3.8" stroke-linejoin="round"/>
<g fill="#f4b43e" fill-opacity="0.2">
<circle cx="275.0" cy="285.6" r="18.5"/><circle cx="275.0" cy="285.6" r="13.5"/>
<circle cx="270.6" cy="298.0" r="18.5"/><circle cx="270.6" cy="298.0" r="13.5"/>
<circle cx="267.0" cy="303.0" r="18.5"/><circle cx="267.0" cy="303.0" r="13.5"/>
<circle cx="265.0" cy="310.0" r="18.5"/><circle cx="265.0" cy="310.0" r="13.5"/>
<circle cx="280.0" cy="317.5" r="18.5"/><circle cx="280.0" cy="317.5" r="13.5"/>
<circle cx="288.8" cy="313.0" r="18.5"/><circle cx="288.8" cy="313.0" r="13.5"/>
<circle cx="295.0" cy="317.0" r="18.5"/><circle cx="295.0" cy="317.0" r="13.5"/>
<circle cx="293.0" cy="325.0" r="18.5"/><circle cx="293.0" cy="325.0" r="13.5"/>
<circle cx="276.0" cy="331.0" r="18.5"/><circle cx="276.0" cy="331.0" r="13.5"/>
<circle cx="284.4" cy="342.5" r="18.5"/><circle cx="284.4" cy="342.5" r="13.5"/>
<circle cx="394.0" cy="361.0" r="18.5"/><circle cx="394.0" cy="361.0" r="13.5"/>
<circle cx="392.5" cy="374.0" r="18.5"/><circle cx="392.5" cy="374.0" r="13.5"/>
<circle cx="473.8" cy="359.4" r="18.5"/><circle cx="473.8" cy="359.4" r="13.5"/>
<circle cx="470.0" cy="365.6" r="18.5"/><circle cx="470.0" cy="365.6" r="13.5"/>
<circle cx="463.8" cy="377.0" r="18.5"/><circle cx="463.8" cy="377.0" r="13.5"/>
<circle cx="477.5" cy="385.0" r="18.5"/><circle cx="477.5" cy="385.0" r="13.5"/>
<circle cx="468.0" cy="398.0" r="18.5"/><circle cx="468.0" cy="398.0" r="13.5"/>
<circle cx="460.6" cy="424.4" r="18.5"/><circle cx="460.6" cy="424.4" r="13.5"/>
<circle cx="453.8" cy="428.8" r="18.5"/><circle cx="453.8" cy="428.8" r="13.5"/>
<circle cx="506.0" cy="388.8" r="18.5"/><circle cx="506.0" cy="388.8" r="13.5"/>
<circle cx="509.4" cy="398.8" r="18.5"/><circle cx="509.4" cy="398.8" r="13.5"/>
<circle cx="502.5" cy="408.8" r="18.5"/><circle cx="502.5" cy="408.8" r="13.5"/>
<circle cx="510.6" cy="412.5" r="18.5"/><circle cx="510.6" cy="412.5" r="13.5"/>
<circle cx="525.0" cy="406.0" r="18.5"/><circle cx="525.0" cy="406.0" r="13.5"/>
<circle cx="520.0" cy="418.8" r="18.5"/><circle cx="520.0" cy="418.8" r="13.5"/>
<circle cx="527.5" cy="417.5" r="18.5"/><circle cx="527.5" cy="417.5" r="13.5"/>
<circle cx="538.8" cy="420.6" r="18.5"/><circle cx="538.8" cy="420.6" r="13.5"/>
<circle cx="533.8" cy="423.8" r="18.5"/><circle cx="533.8" cy="423.8" r="13.5"/>
<circle cx="530.0" cy="426.0" r="18.5"/><circle cx="530.0" cy="426.0" r="13.5"/>
<circle cx="497.0" cy="431.0" r="18.5"/><circle cx="497.0" cy="431.0" r="13.5"/>
<circle cx="547.5" cy="365.6" r="18.5"/><circle cx="547.5" cy="365.6" r="13.5"/>
<circle cx="542.5" cy="370.0" r="18.5"/><circle cx="542.5" cy="370.0" r="13.5"/>
<circle cx="552.5" cy="379.4" r="18.5"/><circle cx="552.5" cy="379.4" r="13.5"/>
<circle cx="562.5" cy="385.0" r="18.5"/><circle cx="562.5" cy="385.0" r="13.5"/>
<circle cx="549.4" cy="390.6" r="18.5"/><circle cx="549.4" cy="390.6" r="13.5"/>
<circle cx="601.2" cy="351.0" r="18.5"/><circle cx="601.2" cy="351.0" r="13.5"/>
<circle cx="598.8" cy="361.0" r="18.5"/><circle cx="598.8" cy="361.0" r="13.5"/>
<circle cx="590.0" cy="371.0" r="18.5"/><circle cx="590.0" cy="371.0" r="13.5"/>
<circle cx="595.0" cy="376.0" r="18.5"/><circle cx="595.0" cy="376.0" r="13.5"/>
<circle cx="591.0" cy="384.0" r="18.5"/><circle cx="591.0" cy="384.0" r="13.5"/>
<circle cx="586.0" cy="391.0" r="18.5"/><circle cx="586.0" cy="391.0" r="13.5"/>
<circle cx="582.5" cy="398.8" r="18.5"/><circle cx="582.5" cy="398.8" r="13.5"/>
<circle cx="578.8" cy="409.4" r="18.5"/><circle cx="578.8" cy="409.4" r="13.5"/>
<circle cx="638.8" cy="356.0" r="18.5"/><circle cx="638.8" cy="356.0" r="13.5"/>
<circle cx="557.5" cy="309.4" r="18.5"/><circle cx="557.5" cy="309.4" r="13.5"/>
<circle cx="613.0" cy="305.6" r="18.5"/><circle cx="613.0" cy="305.6" r="13.5"/>
<circle cx="629.4" cy="301.9" r="18.5"/><circle cx="629.4" cy="301.9" r="13.5"/>
<circle cx="627.5" cy="307.5" r="18.5"/><circle cx="627.5" cy="307.5" r="13.5"/>
<circle cx="647.5" cy="287.5" r="18.5"/><circle cx="647.5" cy="287.5" r="13.5"/>
<circle cx="656.0" cy="292.0" r="18.5"/><circle cx="656.0" cy="292.0" r="13.5"/>
<circle cx="657.0" cy="302.5" r="18.5"/><circle cx="657.0" cy="302.5" r="13.5"/>
<circle cx="670.0" cy="303.0" r="18.5"/><circle cx="670.0" cy="303.0" r="13.5"/>
<circle cx="673.0" cy="300.0" r="18.5"/><circle cx="673.0" cy="300.0" r="13.5"/>
<circle cx="680.0" cy="297.0" r="18.5"/><circle cx="680.0" cy="297.0" r="13.5"/>
<circle cx="661.0" cy="315.0" r="18.5"/><circle cx="661.0" cy="315.0" r="13.5"/>
<circle cx="665.0" cy="320.0" r="18.5"/><circle cx="665.0" cy="320.0" r="13.5"/>
<circle cx="667.5" cy="329.0" r="18.5"/><circle cx="667.5" cy="329.0" r="13.5"/>
<circle cx="675.0" cy="335.6" r="18.5"/><circle cx="675.0" cy="335.6" r="13.5"/>
<circle cx="684.4" cy="317.0" r="18.5"/><circle cx="684.4" cy="317.0" r="13.5"/>
<circle cx="622.5" cy="324.0" r="18.5"/><circle cx="622.5" cy="324.0" r="13.5"/>
<circle cx="619.0" cy="328.0" r="18.5"/><circle cx="619.0" cy="328.0" r="13.5"/>
<circle cx="632.5" cy="326.0" r="18.5"/><circle cx="632.5" cy="326.0" r="13.5"/>
<circle cx="636.0" cy="329.0" r="18.5"/><circle cx="636.0" cy="329.0" r="13.5"/>
<circle cx="607.5" cy="330.0" r="18.5"/><circle cx="607.5" cy="330.0" r="13.5"/>
<circle cx="604.0" cy="338.0" r="18.5"/><circle cx="604.0" cy="338.0" r="13.5"/>
<circle cx="599.0" cy="347.5" r="18.5"/><circle cx="599.0" cy="347.5" r="13.5"/>
<circle cx="646.0" cy="350.0" r="18.5"/><circle cx="646.0" cy="350.0" r="13.5"/>
<circle cx="651.0" cy="357.5" r="18.5"/><circle cx="651.0" cy="357.5" r="13.5"/>
<circle cx="643.8" cy="355.0" r="18.5"/><circle cx="643.8" cy="355.0" r="13.5"/>
<circle cx="640.0" cy="327.5" r="18.5"/><circle cx="640.0" cy="327.5" r="13.5"/>
<circle cx="605.0" cy="343.0" r="18.5"/><circle cx="605.0" cy="343.0" r="13.5"/>
<circle cx="602.5" cy="347.0" r="18.5"/><circle cx="602.5" cy="347.0" r="13.5"/>
<circle cx="783.8" cy="420.0" r="18.5"/><circle cx="783.8" cy="420.0" r="13.5"/>
<circle cx="796.0" cy="302.5" r="18.5"/><circle cx="796.0" cy="302.5" r="13.5"/>
<circle cx="785.0" cy="328.8" r="18.5"/><circle cx="785.0" cy="328.8" r="13.5"/>
<circle cx="788.8" cy="337.5" r="18.5"/><circle cx="788.8" cy="337.5" r="13.5"/>
<circle cx="792.5" cy="356.0" r="18.5"/><circle cx="792.5" cy="356.0" r="13.5"/>
<circle cx="805.6" cy="168.0" r="18.5"/><circle cx="805.6" cy="168.0" r="13.5"/>
<circle cx="824.4" cy="178.8" r="18.5"/><circle cx="824.4" cy="178.8" r="13.5"/>
<circle cx="873.8" cy="150.0" r="18.5"/><circle cx="873.8" cy="150.0" r="13.5"/>
<circle cx="868.0" cy="161.0" r="18.5"/><circle cx="868.0" cy="161.0" r="13.5"/>
<circle cx="910.0" cy="148.8" r="18.5"/><circle cx="910.0" cy="148.8" r="13.5"/>
<circle cx="906.0" cy="166.0" r="18.5"/><circle cx="906.0" cy="166.0" r="13.5"/>
<circle cx="872.0" cy="186.0" r="18.5"/><circle cx="872.0" cy="186.0" r="13.5"/>
<circle cx="862.5" cy="192.0" r="18.5"/><circle cx="862.5" cy="192.0" r="13.5"/>
<circle cx="893.0" cy="188.0" r="18.5"/><circle cx="893.0" cy="188.0" r="13.5"/>
<circle cx="802.0" cy="208.8" r="18.5"/><circle cx="802.0" cy="208.8" r="13.5"/>
<circle cx="820.6" cy="209.0" r="18.5"/><circle cx="820.6" cy="209.0" r="13.5"/>
<circle cx="835.6" cy="213.8" r="18.5"/><circle cx="835.6" cy="213.8" r="13.5"/>
<circle cx="845.0" cy="202.5" r="18.5"/><circle cx="845.0" cy="202.5" r="13.5"/>
<circle cx="848.0" cy="207.5" r="18.5"/><circle cx="848.0" cy="207.5" r="13.5"/>
<circle cx="851.0" cy="212.5" r="18.5"/><circle cx="851.0" cy="212.5" r="13.5"/>
<circle cx="858.8" cy="209.0" r="18.5"/><circle cx="858.8" cy="209.0" r="13.5"/>
<circle cx="877.5" cy="206.0" r="18.5"/><circle cx="877.5" cy="206.0" r="13.5"/>
<circle cx="890.0" cy="203.8" r="18.5"/><circle cx="890.0" cy="203.8" r="13.5"/>
<circle cx="896.0" cy="203.8" r="18.5"/><circle cx="896.0" cy="203.8" r="13.5"/>
<circle cx="900.6" cy="211.0" r="18.5"/><circle cx="900.6" cy="211.0" r="13.5"/>
<circle cx="855.0" cy="227.0" r="18.5"/><circle cx="855.0" cy="227.0" r="13.5"/>
<circle cx="840.0" cy="230.0" r="18.5"/><circle cx="840.0" cy="230.0" r="13.5"/>
<circle cx="830.0" cy="234.0" r="18.5"/><circle cx="830.0" cy="234.0" r="13.5"/>
<circle cx="817.5" cy="229.0" r="18.5"/><circle cx="817.5" cy="229.0" r="13.5"/>
<circle cx="833.8" cy="240.6" r="18.5"/><circle cx="833.8" cy="240.6" r="13.5"/>
<circle cx="807.0" cy="238.8" r="18.5"/><circle cx="807.0" cy="238.8" r="13.5"/>
<circle cx="843.8" cy="247.5" r="18.5"/><circle cx="843.8" cy="247.5" r="13.5"/>
<circle cx="815.6" cy="250.6" r="18.5"/><circle cx="815.6" cy="250.6" r="13.5"/>
<circle cx="810.6" cy="254.0" r="18.5"/><circle cx="810.6" cy="254.0" r="13.5"/>
<circle cx="798.0" cy="253.8" r="18.5"/><circle cx="798.0" cy="253.8" r="13.5"/>
<circle cx="827.0" cy="260.6" r="18.5"/><circle cx="827.0" cy="260.6" r="13.5"/>
<circle cx="1008.8" cy="393.8" r="18.5"/><circle cx="1008.8" cy="393.8" r="13.5"/>
<circle cx="1012.5" cy="407.5" r="18.5"/><circle cx="1012.5" cy="407.5" r="13.5"/>
<circle cx="1032.0" cy="241.0" r="18.5"/><circle cx="1032.0" cy="241.0" r="13.5"/>
<circle cx="1033.0" cy="259.0" r="18.5"/><circle cx="1033.0" cy="259.0" r="13.5"/>
<circle cx="1036.0" cy="265.0" r="18.5"/><circle cx="1036.0" cy="265.0" r="13.5"/>
<circle cx="1040.6" cy="272.5" r="18.5"/><circle cx="1040.6" cy="272.5" r="13.5"/>
<circle cx="1027.0" cy="280.6" r="18.5"/><circle cx="1027.0" cy="280.6" r="13.5"/>
<circle cx="1023.8" cy="285.0" r="18.5"/><circle cx="1023.8" cy="285.0" r="13.5"/>
<circle cx="1022.0" cy="291.0" r="18.5"/><circle cx="1022.0" cy="291.0" r="13.5"/>
<circle cx="1043.0" cy="308.0" r="18.5"/><circle cx="1043.0" cy="308.0" r="13.5"/>
<circle cx="1060.0" cy="303.0" r="18.5"/><circle cx="1060.0" cy="303.0" r="13.5"/>
<circle cx="1090.0" cy="263.0" r="18.5"/><circle cx="1090.0" cy="263.0" r="13.5"/>
<circle cx="1088.8" cy="281.0" r="18.5"/><circle cx="1088.8" cy="281.0" r="13.5"/>
<circle cx="1083.0" cy="300.0" r="18.5"/><circle cx="1083.0" cy="300.0" r="13.5"/>
<circle cx="1093.8" cy="298.8" r="18.5"/><circle cx="1093.8" cy="298.8" r="13.5"/>
<circle cx="1099.0" cy="313.0" r="18.5"/><circle cx="1099.0" cy="313.0" r="13.5"/>
<circle cx="1018.0" cy="322.5" r="18.5"/><circle cx="1018.0" cy="322.5" r="13.5"/>
<circle cx="1015.0" cy="326.0" r="18.5"/><circle cx="1015.0" cy="326.0" r="13.5"/>
<circle cx="1061.0" cy="321.0" r="18.5"/><circle cx="1061.0" cy="321.0" r="13.5"/>
<circle cx="1056.0" cy="329.0" r="18.5"/><circle cx="1056.0" cy="329.0" r="13.5"/>
<circle cx="1050.0" cy="331.0" r="18.5"/><circle cx="1050.0" cy="331.0" r="13.5"/>
<circle cx="1046.0" cy="332.0" r="18.5"/><circle cx="1046.0" cy="332.0" r="13.5"/>
<circle cx="1052.5" cy="339.0" r="18.5"/><circle cx="1052.5" cy="339.0" r="13.5"/>
<circle cx="1075.0" cy="326.0" r="18.5"/><circle cx="1075.0" cy="326.0" r="13.5"/>
<circle cx="1070.0" cy="334.0" r="18.5"/><circle cx="1070.0" cy="334.0" r="13.5"/>
<circle cx="1080.6" cy="342.5" r="18.5"/><circle cx="1080.6" cy="342.5" r="13.5"/>
<circle cx="1078.0" cy="345.0" r="18.5"/><circle cx="1078.0" cy="345.0" r="13.5"/>
<circle cx="1187.5" cy="247.0" r="18.5"/><circle cx="1187.5" cy="247.0" r="13.5"/>
<circle cx="1176.0" cy="284.0" r="18.5"/><circle cx="1176.0" cy="284.0" r="13.5"/>
<circle cx="1183.0" cy="291.0" r="18.5"/><circle cx="1183.0" cy="291.0" r="13.5"/>
<circle cx="1172.5" cy="298.8" r="18.5"/><circle cx="1172.5" cy="298.8" r="13.5"/>
<circle cx="1165.0" cy="302.5" r="18.5"/><circle cx="1165.0" cy="302.5" r="13.5"/>
<circle cx="1157.5" cy="307.5" r="18.5"/><circle cx="1157.5" cy="307.5" r="13.5"/>
<circle cx="1178.8" cy="311.0" r="18.5"/><circle cx="1178.8" cy="311.0" r="13.5"/>
<circle cx="1151.0" cy="329.0" r="18.5"/><circle cx="1151.0" cy="329.0" r="13.5"/>
<circle cx="1145.6" cy="330.0" r="18.5"/><circle cx="1145.6" cy="330.0" r="13.5"/>
<circle cx="1140.0" cy="330.0" r="18.5"/><circle cx="1140.0" cy="330.0" r="13.5"/>
<circle cx="1147.0" cy="317.5" r="18.5"/><circle cx="1147.0" cy="317.5" r="13.5"/>
<circle cx="1154.0" cy="309.0" r="18.5"/><circle cx="1154.0" cy="309.0" r="13.5"/>
<circle cx="1159.0" cy="312.0" r="18.5"/><circle cx="1159.0" cy="312.0" r="13.5"/>
<circle cx="1171.0" cy="313.0" r="18.5"/><circle cx="1171.0" cy="313.0" r="13.5"/>
<circle cx="1163.8" cy="187.5" r="18.5"/><circle cx="1163.8" cy="187.5" r="13.5"/>
<circle cx="1160.0" cy="196.0" r="18.5"/><circle cx="1160.0" cy="196.0" r="13.5"/>
<circle cx="1272.5" cy="160.0" r="18.5"/><circle cx="1272.5" cy="160.0" r="13.5"/>
<circle cx="1268.0" cy="167.5" r="18.5"/><circle cx="1268.0" cy="167.5" r="13.5"/>
<circle cx="1256.0" cy="168.0" r="18.5"/><circle cx="1256.0" cy="168.0" r="13.5"/>
<circle cx="1252.0" cy="179.0" r="18.5"/><circle cx="1252.0" cy="179.0" r="13.5"/>
<circle cx="1246.0" cy="184.0" r="18.5"/><circle cx="1246.0" cy="184.0" r="13.5"/>
<circle cx="1263.0" cy="186.0" r="18.5"/><circle cx="1263.0" cy="186.0" r="13.5"/>
<circle cx="1243.8" cy="192.5" r="18.5"/><circle cx="1243.8" cy="192.5" r="13.5"/>
<circle cx="1239.0" cy="193.0" r="18.5"/><circle cx="1239.0" cy="193.0" r="13.5"/>
<circle cx="1230.0" cy="193.0" r="18.5"/><circle cx="1230.0" cy="193.0" r="13.5"/>
<circle cx="1233.8" cy="204.0" r="18.5"/><circle cx="1233.8" cy="204.0" r="13.5"/>
<circle cx="1258.8" cy="206.0" r="18.5"/><circle cx="1258.8" cy="206.0" r="13.5"/>
<circle cx="1249.0" cy="215.6" r="18.5"/><circle cx="1249.0" cy="215.6" r="13.5"/>
<circle cx="1228.0" cy="219.0" r="18.5"/><circle cx="1228.0" cy="219.0" r="13.5"/>
<circle cx="1215.0" cy="214.0" r="18.5"/><circle cx="1215.0" cy="214.0" r="13.5"/>
<circle cx="1210.0" cy="222.0" r="18.5"/><circle cx="1210.0" cy="222.0" r="13.5"/>
<circle cx="1205.0" cy="211.0" r="18.5"/><circle cx="1205.0" cy="211.0" r="13.5"/>
<circle cx="1200.6" cy="210.0" r="18.5"/><circle cx="1200.6" cy="210.0" r="13.5"/>
<circle cx="1196.0" cy="220.0" r="18.5"/><circle cx="1196.0" cy="220.0" r="13.5"/>
<circle cx="1191.0" cy="215.0" r="18.5"/><circle cx="1191.0" cy="215.0" r="13.5"/>
<circle cx="1187.5" cy="211.0" r="18.5"/><circle cx="1187.5" cy="211.0" r="13.5"/>
<circle cx="1225.0" cy="237.5" r="18.5"/><circle cx="1225.0" cy="237.5" r="13.5"/>
<circle cx="1224.0" cy="237.0" r="18.5"/><circle cx="1224.0" cy="237.0" r="13.5"/>
<circle cx="1222.0" cy="244.0" r="18.5"/><circle cx="1222.0" cy="244.0" r="13.5"/>
<circle cx="1219.0" cy="250.6" r="18.5"/><circle cx="1219.0" cy="250.6" r="13.5"/>
<circle cx="1276.0" cy="123.8" r="18.5"/><circle cx="1276.0" cy="123.8" r="13.5"/>
<circle cx="1195.0" cy="224.0" r="18.5"/><circle cx="1195.0" cy="224.0" r="13.5"/>
<circle cx="1346.0" cy="255.6" r="18.5"/><circle cx="1346.0" cy="255.6" r="13.5"/>
<circle cx="1378.8" cy="221.0" r="18.5"/><circle cx="1378.8" cy="221.0" r="13.5"/>
<circle cx="1376.0" cy="232.5" r="18.5"/><circle cx="1376.0" cy="232.5" r="13.5"/>
<circle cx="1380.0" cy="221.0" r="18.5"/><circle cx="1380.0" cy="221.0" r="13.5"/>
<circle cx="1377.0" cy="233.8" r="18.5"/><circle cx="1377.0" cy="233.8" r="13.5"/>
<circle cx="1386.0" cy="232.5" r="18.5"/><circle cx="1386.0" cy="232.5" r="13.5"/>
<circle cx="1395.6" cy="237.0" r="18.5"/><circle cx="1395.6" cy="237.0" r="13.5"/>
<circle cx="1375.0" cy="243.8" r="18.5"/><circle cx="1375.0" cy="243.8" r="13.5"/>
<circle cx="1390.0" cy="250.0" r="18.5"/><circle cx="1390.0" cy="250.0" r="13.5"/>
<circle cx="1400.0" cy="192.5" r="18.5"/><circle cx="1400.0" cy="192.5" r="13.5"/>
<circle cx="1414.4" cy="117.0" r="18.5"/><circle cx="1414.4" cy="117.0" r="13.5"/>
<circle cx="1408.8" cy="128.8" r="18.5"/><circle cx="1408.8" cy="128.8" r="13.5"/>
<circle cx="1405.0" cy="135.0" r="18.5"/><circle cx="1405.0" cy="135.0" r="13.5"/>
<circle cx="1412.0" cy="153.0" r="18.5"/><circle cx="1412.0" cy="153.0" r="13.5"/>
<circle cx="1403.8" cy="164.4" r="18.5"/><circle cx="1403.8" cy="164.4" r="13.5"/>
<circle cx="1418.8" cy="163.0" r="18.5"/><circle cx="1418.8" cy="163.0" r="13.5"/>
<circle cx="1425.6" cy="162.5" r="18.5"/><circle cx="1425.6" cy="162.5" r="13.5"/>
</g>
<g fill="#f2b23c" stroke="#fff7de" stroke-width="1.7">
<circle cx="265.0" cy="310.0" r="8"/>
<circle cx="267.0" cy="303.0" r="8"/>
<circle cx="270.6" cy="298.0" r="8"/>
<circle cx="275.0" cy="285.6" r="8"/>
<circle cx="276.0" cy="331.0" r="8"/>
<circle cx="280.0" cy="317.5" r="8"/>
<circle cx="284.4" cy="342.5" r="8"/>
<circle cx="288.8" cy="313.0" r="8"/>
<circle cx="293.0" cy="325.0" r="8"/>
<circle cx="295.0" cy="317.0" r="8"/>
<circle cx="392.5" cy="374.0" r="8"/>
<circle cx="394.0" cy="361.0" r="8"/>
<circle cx="453.8" cy="428.8" r="8"/>
<circle cx="460.6" cy="424.4" r="8"/>
<circle cx="463.8" cy="377.0" r="8"/>
<circle cx="468.0" cy="398.0" r="8"/>
<circle cx="470.0" cy="365.6" r="8"/>
<circle cx="473.8" cy="359.4" r="8"/>
<circle cx="477.5" cy="385.0" r="8"/>
<circle cx="497.0" cy="431.0" r="8"/>
<circle cx="502.5" cy="408.8" r="8"/>
<circle cx="506.0" cy="388.8" r="8"/>
<circle cx="509.4" cy="398.8" r="8"/>
<circle cx="510.6" cy="412.5" r="8"/>
<circle cx="520.0" cy="418.8" r="8"/>
<circle cx="525.0" cy="406.0" r="8"/>
<circle cx="527.5" cy="417.5" r="8"/>
<circle cx="530.0" cy="426.0" r="8"/>
<circle cx="533.8" cy="423.8" r="8"/>
<circle cx="538.8" cy="420.6" r="8"/>
<circle cx="542.5" cy="370.0" r="8"/>
<circle cx="547.5" cy="365.6" r="8"/>
<circle cx="549.4" cy="390.6" r="8"/>
<circle cx="552.5" cy="379.4" r="8"/>
<circle cx="557.5" cy="309.4" r="8"/>
<circle cx="562.5" cy="385.0" r="8"/>
<circle cx="578.8" cy="409.4" r="8"/>
<circle cx="582.5" cy="398.8" r="8"/>
<circle cx="586.0" cy="391.0" r="8"/>
<circle cx="590.0" cy="371.0" r="8"/>
<circle cx="591.0" cy="384.0" r="8"/>
<circle cx="595.0" cy="376.0" r="8"/>
<circle cx="598.8" cy="361.0" r="8"/>
<circle cx="599.0" cy="347.5" r="8"/>
<circle cx="601.2" cy="351.0" r="8"/>
<circle cx="602.5" cy="347.0" r="8"/>
<circle cx="604.0" cy="338.0" r="8"/>
<circle cx="605.0" cy="343.0" r="8"/>
<circle cx="607.5" cy="330.0" r="8"/>
<circle cx="613.0" cy="305.6" r="8"/>
<circle cx="619.0" cy="328.0" r="8"/>
<circle cx="622.5" cy="324.0" r="8"/>
<circle cx="627.5" cy="307.5" r="8"/>
<circle cx="629.4" cy="301.9" r="8"/>
<circle cx="632.5" cy="326.0" r="8"/>
<circle cx="636.0" cy="329.0" r="8"/>
<circle cx="638.8" cy="356.0" r="8"/>
<circle cx="640.0" cy="327.5" r="8"/>
<circle cx="643.8" cy="355.0" r="8"/>
<circle cx="646.0" cy="350.0" r="8"/>
<circle cx="647.5" cy="287.5" r="8"/>
<circle cx="651.0" cy="357.5" r="8"/>
<circle cx="656.0" cy="292.0" r="8"/>
<circle cx="657.0" cy="302.5" r="8"/>
<circle cx="661.0" cy="315.0" r="8"/>
<circle cx="665.0" cy="320.0" r="8"/>
<circle cx="667.5" cy="329.0" r="8"/>
<circle cx="670.0" cy="303.0" r="8"/>
<circle cx="673.0" cy="300.0" r="8"/>
<circle cx="675.0" cy="335.6" r="8"/>
<circle cx="680.0" cy="297.0" r="8"/>
<circle cx="684.4" cy="317.0" r="8"/>
<circle cx="783.8" cy="420.0" r="8"/>
<circle cx="785.0" cy="328.8" r="8"/>
<circle cx="788.8" cy="337.5" r="8"/>
<circle cx="792.5" cy="356.0" r="8"/>
<circle cx="796.0" cy="302.5" r="8"/>
<circle cx="798.0" cy="253.8" r="8"/>
<circle cx="802.0" cy="208.8" r="8"/>
<circle cx="805.6" cy="168.0" r="8"/>
<circle cx="807.0" cy="238.8" r="8"/>
<circle cx="810.6" cy="254.0" r="8"/>
<circle cx="815.6" cy="250.6" r="8"/>
<circle cx="817.5" cy="229.0" r="8"/>
<circle cx="820.6" cy="209.0" r="8"/>
<circle cx="824.4" cy="178.8" r="8"/>
<circle cx="827.0" cy="260.6" r="8"/>
<circle cx="830.0" cy="234.0" r="8"/>
<circle cx="833.8" cy="240.6" r="8"/>
<circle cx="835.6" cy="213.8" r="8"/>
<circle cx="840.0" cy="230.0" r="8"/>
<circle cx="843.8" cy="247.5" r="8"/>
<circle cx="845.0" cy="202.5" r="8"/>
<circle cx="848.0" cy="207.5" r="8"/>
<circle cx="851.0" cy="212.5" r="8"/>
<circle cx="855.0" cy="227.0" r="8"/>
<circle cx="858.8" cy="209.0" r="8"/>
<circle cx="862.5" cy="192.0" r="8"/>
<circle cx="868.0" cy="161.0" r="8"/>
<circle cx="872.0" cy="186.0" r="8"/>
<circle cx="873.8" cy="150.0" r="8"/>
<circle cx="877.5" cy="206.0" r="8"/>
<circle cx="890.0" cy="203.8" r="8"/>
<circle cx="893.0" cy="188.0" r="8"/>
<circle cx="896.0" cy="203.8" r="8"/>
<circle cx="900.6" cy="211.0" r="8"/>
<circle cx="906.0" cy="166.0" r="8"/>
<circle cx="910.0" cy="148.8" r="8"/>
<circle cx="1008.8" cy="393.8" r="8"/>
<circle cx="1012.5" cy="407.5" r="8"/>
<circle cx="1015.0" cy="326.0" r="8"/>
<circle cx="1018.0" cy="322.5" r="8"/>
<circle cx="1022.0" cy="291.0" r="8"/>
<circle cx="1023.8" cy="285.0" r="8"/>
<circle cx="1027.0" cy="280.6" r="8"/>
<circle cx="1032.0" cy="241.0" r="8"/>
<circle cx="1033.0" cy="259.0" r="8"/>
<circle cx="1036.0" cy="265.0" r="8"/>
<circle cx="1040.6" cy="272.5" r="8"/>
<circle cx="1043.0" cy="308.0" r="8"/>
<circle cx="1046.0" cy="332.0" r="8"/>
<circle cx="1050.0" cy="331.0" r="8"/>
<circle cx="1052.5" cy="339.0" r="8"/>
<circle cx="1056.0" cy="329.0" r="8"/>
<circle cx="1060.0" cy="303.0" r="8"/>
<circle cx="1061.0" cy="321.0" r="8"/>
<circle cx="1070.0" cy="334.0" r="8"/>
<circle cx="1075.0" cy="326.0" r="8"/>
<circle cx="1078.0" cy="345.0" r="8"/>
<circle cx="1080.6" cy="342.5" r="8"/>
<circle cx="1083.0" cy="300.0" r="8"/>
<circle cx="1088.8" cy="281.0" r="8"/>
<circle cx="1090.0" cy="263.0" r="8"/>
<circle cx="1093.8" cy="298.8" r="8"/>
<circle cx="1099.0" cy="313.0" r="8"/>
<circle cx="1140.0" cy="330.0" r="8"/>
<circle cx="1145.6" cy="330.0" r="8"/>
<circle cx="1147.0" cy="317.5" r="8"/>
<circle cx="1151.0" cy="329.0" r="8"/>
<circle cx="1154.0" cy="309.0" r="8"/>
<circle cx="1157.5" cy="307.5" r="8"/>
<circle cx="1159.0" cy="312.0" r="8"/>
<circle cx="1160.0" cy="196.0" r="8"/>
<circle cx="1163.8" cy="187.5" r="8"/>
<circle cx="1165.0" cy="302.5" r="8"/>
<circle cx="1171.0" cy="313.0" r="8"/>
<circle cx="1172.5" cy="298.8" r="8"/>
<circle cx="1176.0" cy="284.0" r="8"/>
<circle cx="1178.8" cy="311.0" r="8"/>
<circle cx="1183.0" cy="291.0" r="8"/>
<circle cx="1187.5" cy="247.0" r="8"/>
<circle cx="1187.5" cy="211.0" r="8"/>
<circle cx="1191.0" cy="215.0" r="8"/>
<circle cx="1195.0" cy="224.0" r="8"/>
<circle cx="1196.0" cy="220.0" r="8"/>
<circle cx="1200.6" cy="210.0" r="8"/>
<circle cx="1205.0" cy="211.0" r="8"/>
<circle cx="1210.0" cy="222.0" r="8"/>
<circle cx="1215.0" cy="214.0" r="8"/>
<circle cx="1219.0" cy="250.6" r="8"/>
<circle cx="1222.0" cy="244.0" r="8"/>
<circle cx="1224.0" cy="237.0" r="8"/>
<circle cx="1225.0" cy="237.5" r="8"/>
<circle cx="1228.0" cy="219.0" r="8"/>
<circle cx="1230.0" cy="193.0" r="8"/>
<circle cx="1233.8" cy="204.0" r="8"/>
<circle cx="1239.0" cy="193.0" r="8"/>
<circle cx="1243.8" cy="192.5" r="8"/>
<circle cx="1246.0" cy="184.0" r="8"/>
<circle cx="1249.0" cy="215.6" r="8"/>
<circle cx="1252.0" cy="179.0" r="8"/>
<circle cx="1256.0" cy="168.0" r="8"/>
<circle cx="1258.8" cy="206.0" r="8"/>
<circle cx="1263.0" cy="186.0" r="8"/>
<circle cx="1268.0" cy="167.5" r="8"/>
<circle cx="1272.5" cy="160.0" r="8"/>
<circle cx="1276.0" cy="123.8" r="8"/>
<circle cx="1346.0" cy="255.6" r="8"/>
<circle cx="1375.0" cy="243.8" r="8"/>
<circle cx="1376.0" cy="232.5" r="8"/>
<circle cx="1377.0" cy="233.8" r="8"/>
<circle cx="1378.8" cy="221.0" r="8"/>
<circle cx="1380.0" cy="221.0" r="8"/>
<circle cx="1386.0" cy="232.5" r="8"/>
<circle cx="1390.0" cy="250.0" r="8"/>
<circle cx="1395.6" cy="237.0" r="8"/>
<circle cx="1400.0" cy="192.5" r="8"/>
<circle cx="1403.8" cy="164.4" r="8"/>
<circle cx="1405.0" cy="135.0" r="8"/>
<circle cx="1408.8" cy="128.8" r="8"/>
<circle cx="1412.0" cy="153.0" r="8"/>
<circle cx="1414.4" cy="117.0" r="8"/>
<circle cx="1418.8" cy="163.0" r="8"/>
<circle cx="1425.6" cy="162.5" r="8"/>
</g>
<line x1="115.75" x2="115.75" y1="93" y2="623.5" stroke="#d0669a" stroke-width="3.5"/>
<line x1="250.4" x2="250.4" y1="93" y2="623.5" stroke="#d2d1da" stroke-width="3.6"/>
<line x1="1441.5" x2="1441.5" y1="93" y2="623.5" stroke="#0a0a0a" stroke-width="3.6"/>
<circle cx="22.5" cy="30.5" r="11" fill="#4a3be0"/>
<text class="lg" x="56" y="40" textLength="189" lengthAdjust="spacing">30-day % change</text>
<line x1="284" x2="328" y1="31.8" y2="31.8" stroke="#0a0a0a" stroke-width="3.6"/>
<text class="lg" x="339" y="40" textLength="53" lengthAdjust="spacing">Price</text>
<line x1="431" x2="476" y1="31.8" y2="31.8" stroke="#d0669a" stroke-width="3.6"/>
<text class="lg" x="487" y="40" textLength="141" lengthAdjust="spacing">Total Balance</text>
<line x1="667" x2="711" y1="32" y2="32" stroke="#d0669a" stroke-width="1.5" stroke-dasharray="5 2.5"/>
<text class="lg" x="723" y="40" textLength="247" lengthAdjust="spacing">Total Balance-SMA(30)</text>
<line x1="1010" x2="1052" y1="31.7" y2="31.7" stroke="#7467f0" stroke-width="3.4" stroke-dasharray="11.8 3.4"/>
<text class="lg" x="1066" y="40" textLength="295" lengthAdjust="spacing">30-day % change-SMA(30)</text>
<text class="ax" x="33" y="202" textLength="52.5" lengthAdjust="spacing">3.5M</text>
<text class="ax" x="33" y="310" textLength="52.5" lengthAdjust="spacing">3.4M</text>
<text class="ax" x="33" y="417" textLength="52.5" lengthAdjust="spacing">3.3M</text>
<text class="ax" x="33" y="525" textLength="52.5" lengthAdjust="spacing">3.2M</text>
<text class="ax" x="33" y="633" textLength="52.5" lengthAdjust="spacing">3.1M</text>
<text class="ax" x="188.5" y="201" textLength="33" lengthAdjust="spacing">2.4</text>
<text class="ax" x="189.5" y="320" textLength="32" lengthAdjust="spacing">1.2</text>
<text class="ax" x="209.0" y="441" textLength="12.5" lengthAdjust="spacing">0</text>
<text class="ax" x="178.0" y="561" textLength="43.5" lengthAdjust="spacing">-1.2</text>
<text class="ax" x="1470.5" y="195.2" textLength="55.5" lengthAdjust="spacing">100K</text>
<text class="ax" x="1470.5" y="261.8" textLength="42.5" lengthAdjust="spacing">90K</text>
<text class="ax" x="1470.5" y="335.2" textLength="42.5" lengthAdjust="spacing">80K</text>
<text class="ax" x="1470.5" y="421" textLength="42.5" lengthAdjust="spacing">70K</text>
<text class="ax" x="1470.5" y="518" textLength="42.5" lengthAdjust="spacing">60K</text>
<text class="ax" x="1470.5" y="633" textLength="42.5" lengthAdjust="spacing">50K</text>
<rect x="1441" y="109" width="99" height="47" fill="#0b0b0b"/>
<text x="1452" y="141" font-size="22" fill="#fff" stroke="#fff" stroke-width="0.3" textLength="77" lengthAdjust="spacing">108.9K</text>
<text transform="translate(13,489) rotate(-90)" font-size="20.5" fill="#111" stroke="#111" stroke-width="0.3" textLength="268" lengthAdjust="spacing">Total Balance (# of Bitcoin)</text>
<text transform="translate(156,446) rotate(-90)" font-size="20.5" fill="#111" stroke="#111" stroke-width="0.3" textLength="177" lengthAdjust="spacing">30-day % change</text>
<text transform="translate(1547,316.5) rotate(90)" font-size="20.5" fill="#111" stroke="#111" stroke-width="0.3" textLength="84" lengthAdjust="spacing">Price ($)</text>
<text class="xt" x="330.3" y="675.2" textLength="94" lengthAdjust="spacing">2024 Jul</text>
<text class="xt" x="522.5" y="675.2" textLength="103.5" lengthAdjust="spacing">2024 Sep</text>
<text class="xt" x="716" y="675.2" textLength="105" lengthAdjust="spacing">2024 Nov</text>
<text class="xt" x="912" y="675.2" textLength="100.8" lengthAdjust="spacing">2025 Jan</text>
<text class="xt" x="1098.2" y="675.2" textLength="103" lengthAdjust="spacing">2025 Mar</text>
<text class="xt" x="1290.7" y="675.2" textLength="106" lengthAdjust="spacing">2025 May</text>
<text x="607" y="708.5" font-size="19.8" fill="#7a7a82" stroke="#7a7a82" stroke-width="0.3" textLength="478" lengthAdjust="spacing">*Excludes exchange and mining pool addresses</text>
</svg></body></html>
